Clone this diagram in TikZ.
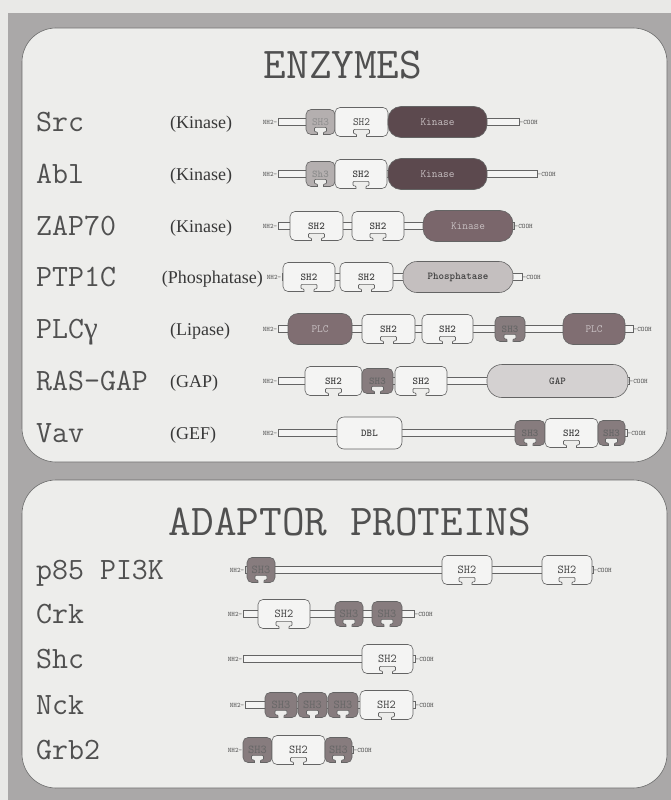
\documentclass[tikz,border=0pt]{standalone}
\usepackage{fontspec}
\setmainfont{Liberation Serif}
\usepackage{tikz}
\usetikzlibrary{calc}
\definecolor{pagebg}{RGB}{233,233,231}
\definecolor{framegray}{RGB}{170,168,168}
\definecolor{panelbg}{RGB}{237,237,235}
\definecolor{panelline}{RGB}{105,105,105}
\definecolor{textgray}{RGB}{80,80,80}
\definecolor{domline}{RGB}{100,100,100}
\definecolor{sh2fill}{RGB}{244,244,243}
\definecolor{sh3light}{RGB}{180,175,175}
\definecolor{sh3dark}{RGB}{135,124,126}
\definecolor{kindark}{RGB}{92,73,78}
\definecolor{kinmid}{RGB}{122,102,107}
\definecolor{plcfill}{RGB}{128,110,114}
\definecolor{phosfill}{RGB}{196,191,191}
\definecolor{gapfill}{RGB}{212,209,209}
\definecolor{lighttext}{RGB}{200,192,194}
\tikzset{
  panel/.style={fill=panelbg,draw=panelline,line width=.6pt,rounded corners=34pt},
  title/.style={inner sep=0pt,font=\ttfamily\fontsize{44}{44}\selectfont,text=textgray},
  pname/.style={anchor=base west,inner sep=0pt,font=\ttfamily\fontsize{31}{31}\selectfont,text=textgray},
  catlabel/.style={anchor=base west,inner sep=0pt,font=\fontsize{18}{18}\selectfont,text=textgray!70!black},
  term/.style={inner sep=0.5pt,font=\ttfamily\fontsize{6.8}{6.8}\selectfont,text=textgray},
  backbone/.style={draw=domline,fill=sh2fill,line width=.55pt},
  dombox/.style={draw=domline,line width=.6pt,inner sep=0pt,outer sep=0pt,rounded corners=5pt,
    font=\ttfamily\bfseries\fontsize{10.5}{10.5}\selectfont,text=textgray!80!black},
  sh2/.style={dombox,fill=sh2fill,minimum width=#1,minimum height=29},
  sh3/.style={dombox,fill=sh3dark,minimum width=#1,minimum height=25,text=black!60},
  sh3lt/.style={sh3=#1,fill=sh3light,text=black!45},
  kin/.style={dombox,fill=kindark,rounded corners=13pt,minimum width=#1,minimum height=31,
    text=lighttext,font=\ttfamily\fontsize{11}{11}\selectfont},
  phos/.style={dombox,fill=phosfill,rounded corners=14pt,minimum width=#1,minimum height=31},
  plc/.style={dombox,fill=plcfill,rounded corners=10pt,minimum width=#1,minimum height=31,
    text=lighttext,font=\ttfamily\fontsize{11}{11}\selectfont},
  gapdom/.style={dombox,fill=gapfill,rounded corners=15pt,minimum width=#1,minimum height=33},
  dbl/.style={dombox,fill=sh2fill,rounded corners=7pt,minimum width=#1,minimum height=32},
  plainlbl/.style={font=\ttfamily\fontsize{12}{12}\selectfont},
  notchline/.style={draw=domline,fill=panelbg,line width=.6pt,rounded corners=1pt}
}
% socket cut into the bottom edge of an SH2/SH3 box
\newcommand{\domnotch}[2]{%
  \filldraw[notchline] ($(#1.south)+(#2,0.4)$) -- ++(0,-3) -- ++(3,0) -- ++(0,-4.5)
    -- ++({-2*#2-6},0) -- ++(0,4.5) -- ++(3,0) -- ++(0,3);
}

\begin{document}
\begin{tikzpicture}[x=1pt,y=-1pt]
\useasboundingbox (0,0) rectangle (671,800);
\fill[pagebg] (0,0) rectangle (671,800);
\fill[framegray] (8,13) rectangle (671,800);

\draw[panel] (22,28) rectangle (667,462);
\draw[panel] (22,480) rectangle (667,788);

\node[title] (enzymes) at (343,65) {ENZYMES};
\node[title] (adaptors) at (350,522) {ADAPTOR PROTEINS};

\foreach \nm/\yy [count=\i] in {Src/122,Abl/174,ZAP70/226,PTP1C/277,PLC{\rmfamily γ}/329,RAS-GAP/381,Vav/433}{
  \node[pname] (enzname\i) at (36,\yy+9.5) {\nm};
}
\foreach \cat/\yy [count=\i] in {Kinase/122,Kinase/174,Kinase/226,Lipase/329,GAP/381,GEF/433}{
  \node[catlabel] (enzcat\i) at (170,\yy+6) {(\cat)};
}
\node[catlabel,anchor=base east] (enzcatptp) at (263,283) {(Phosphatase)};

\foreach \nm/\yy [count=\i] in {p85 PI3K/570,Crk/614,Shc/659,Nck/705,Grb2/750}{
  \node[pname] (adpname\i) at (36,\yy+9.5) {\nm};
}

% Src
\node[term,anchor=east] (srcN) at (278,122) {NH2-};
\node[term,anchor=west] (srcC) at (519,122) {-COOH};
\draw[backbone] ($(srcN.east)+(0,-3.5)$) rectangle ($(srcC.west)+(0,3.5)$);
\node[sh3lt=29,font=\ttfamily\fontsize{11}{11}\selectfont] (srcSH3) at (320.5,122) {SH3};
\node[sh2=53,font=\ttfamily\fontsize{11}{11}\selectfont] (srcSH2) at (361.5,122) {SH2};
\node[kin=99] (srcKin) at (437.5,122) {Kinase};

% Abl
\node[term,anchor=east] (ablN) at (278,174) {NH2-};
\node[term,anchor=west] (ablC) at (537,174) {-COOH};
\draw[backbone] ($(ablN.east)+(0,-3.5)$) rectangle ($(ablC.west)+(0,3.5)$);
\node[sh3lt=29] (ablSH3) at (320.5,174) {Sh3};
\node[sh2=52] (ablSH2) at (361,174) {SH2};
\node[kin=99] (ablKin) at (437.5,174) {Kinase};

% ZAP70
\node[term,anchor=east] (zapN) at (278,226) {NH2-};
\node[term,anchor=west] (zapC) at (514,226) {-COOH};
\draw[backbone] ($(zapN.east)+(0,-3.5)$) rectangle ($(zapC.west)+(0,3.5)$);
\node[sh2=53] (zapSHa) at (316.5,226) {SH2};
\node[sh2=52] (zapSHb) at (378,226) {SH2};
\node[kin=90,fill=kinmid] (zapKin) at (468,226) {Kinase};

% PTP1C
\node[term,anchor=east] (ptpN) at (282,277) {NH2-};
\node[term,anchor=west] (ptpC) at (522,277) {-COOH};
\draw[backbone] ($(ptpN.east)+(0,-3.5)$) rectangle ($(ptpC.west)+(0,3.5)$);
\node[sh2=52] (ptpSHa) at (309,277) {SH2};
\node[sh2=53] (ptpSHb) at (366.5,277) {SH2};
\node[phos=110] (ptpPhos) at (458,277) {Phosphatase};

% PLCgamma
\node[term,anchor=east] (plcN) at (278,329) {NH2-};
\node[term,anchor=west] (plcC) at (633,329) {-COOH};
\draw[backbone] ($(plcN.east)+(0,-3.5)$) rectangle ($(plcC.west)+(0,3.5)$);
\node[plc=64] (plcA) at (320,329) {PLC};
\node[sh2=53] (plcSHa) at (388.5,329) {SH2};
\node[sh2=51] (plcSHb) at (447.5,329) {SH2};
\node[sh3=30] (plcSH3) at (510,329) {SH3};
\node[plc=62] (plcB) at (594,329) {PLC};

% RAS-GAP
\node[term,anchor=east] (rasN) at (278,381) {NH2-};
\node[term,anchor=west] (rasC) at (629,381) {-COOH};
\draw[backbone] ($(rasN.east)+(0,-3.5)$) rectangle ($(rasC.west)+(0,3.5)$);
\node[sh2=57] (rasSHa) at (333.5,381) {SH2};
\node[sh3=31] (rasSH3) at (377.5,381) {SH3};
\node[sh2=52] (rasSHb) at (421,381) {SH2};
\node[gapdom=141] (rasGap) at (557.5,381) {GAP};

% Vav
\node[term,anchor=east] (vavN) at (278,433) {NH2-};
\node[term,anchor=west] (vavC) at (627,433) {-COOH};
\draw[backbone] ($(vavN.east)+(0,-3.5)$) rectangle ($(vavC.west)+(0,3.5)$);
\node[dbl=65] (vavDbl) at (369.5,433) {DBL};
\node[sh3=30] (vavSHa) at (530,433) {SH3};
\node[sh2=53] (vavSH2) at (571.5,433) {SH2};
\node[sh3=27] (vavSHb) at (611.5,433) {SH3};

% p85 PI3K
\node[term,anchor=east] (p85N) at (245,570) {NH2-};
\node[term,anchor=west] (p85C) at (593,570) {-COOH};
\draw[backbone] ($(p85N.east)+(0,-3.5)$) rectangle ($(p85C.west)+(0,3.5)$);
\node[sh3=28,plainlbl,text=black!60] (p85SH3) at (261,570) {SH3};
\node[sh2=50,plainlbl] (p85SHa) at (467,570) {SH2};
\node[sh2=50,plainlbl] (p85SHb) at (567,570) {SH2};

% Crk
\node[term,anchor=east] (crkN) at (243,614) {NH2-};
\node[term,anchor=west] (crkC) at (414,614) {-COOH};
\draw[backbone] ($(crkN.east)+(0,-3.5)$) rectangle ($(crkC.west)+(0,3.5)$);
\node[sh2=52,plainlbl] (crkSH2) at (284,614) {SH2};
\node[sh3=28,plainlbl,text=black!60] (crkSHa) at (349,614) {SH3};
\node[sh3=30,plainlbl,text=black!60] (crkSHb) at (387,614) {SH3};

% Shc
\node[term,anchor=east] (shcN) at (243,659) {NH2-};
\node[term,anchor=west] (shcC) at (415,659) {-COOH};
\draw[backbone] ($(shcN.east)+(0,-3.5)$) rectangle ($(shcC.west)+(0,3.5)$);
\node[sh2=51,plainlbl] (shcSH2) at (387.5,659) {SH2};

% Nck
\node[term,anchor=east] (nckN) at (245,705) {NH2-};
\node[term,anchor=west] (nckC) at (415,705) {-COOH};
\draw[backbone] ($(nckN.east)+(0,-3.5)$) rectangle ($(nckC.west)+(0,3.5)$);
\node[sh3=32,plainlbl,text=black!60] (nckSHa) at (281,705) {SH3};
\node[sh3=29,plainlbl,text=black!60] (nckSHb) at (312.5,705) {SH3};
\node[sh3=30,plainlbl,text=black!60] (nckSHc) at (343,705) {SH3};
\node[sh2=53,plainlbl] (nckSH2) at (386.5,705) {SH2};

% Grb2
\node[term,anchor=east] (grbN) at (243,750) {NH2-};
\node[term,anchor=west] (grbC) at (353,750) {-COOH};
\draw[backbone] ($(grbN.east)+(0,-3.5)$) rectangle ($(grbC.west)+(0,3.5)$);
\node[sh3=29,plainlbl,text=black!60] (grbSHa) at (257.5,750) {SH3};
\node[sh2=53,plainlbl] (grbSH2) at (298.5,750) {SH2};
\node[sh3=27,plainlbl,text=black!60] (grbSHb) at (338.5,750) {SH3};

\foreach \n in {srcSH2,ablSH2,zapSHa,zapSHb,ptpSHa,ptpSHb,plcSHa,plcSHb,rasSHa,rasSHb,vavSH2,
                p85SHa,p85SHb,crkSH2,shcSH2,nckSH2,grbSH2}{
  \domnotch{\n}{5}
}
\foreach \n in {srcSH3,ablSH3,plcSH3,rasSH3,vavSHa,vavSHb,p85SH3,crkSHa,crkSHb,
                nckSHa,nckSHb,nckSHc,grbSHa,grbSHb}{
  \domnotch{\n}{3}
}

\end{tikzpicture}
\end{document}
